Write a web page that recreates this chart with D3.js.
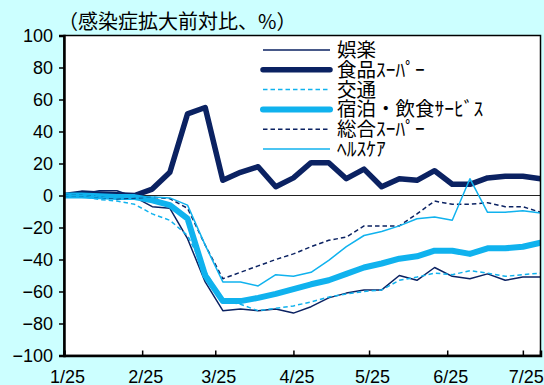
<!DOCTYPE html>
<html>
<head>
<meta charset="utf-8">
<script src="https://cdn.jsdelivr.net/npm/d3@7"></script>
<style>
  html, body { margin: 0; padding: 0; background: #CCFFFF; }
  svg { display: block; }
</style>
</head>
<body>
<svg id="chart" width="544" height="385"></svg>
<script>
// Weekly observation dates (week starting)
const weeks = [
  "2020-01-25","2020-02-01","2020-02-08","2020-02-15","2020-02-22","2020-02-29",
  "2020-03-07","2020-03-14","2020-03-21","2020-03-28","2020-04-04","2020-04-11",
  "2020-04-18","2020-04-25","2020-05-02","2020-05-09","2020-05-16","2020-05-23",
  "2020-05-30","2020-06-06","2020-06-13","2020-06-20","2020-06-27","2020-07-04",
  "2020-07-11","2020-07-18","2020-07-25","2020-08-01"
];

const tickDates  = ["2020-01-25","2020-02-25","2020-03-25","2020-04-25","2020-05-25","2020-06-25","2020-07-25"];
const tickLabels = ["1/25","2/25","3/25","4/25","5/25","6/25","7/25"];
const yTicks = [100, 80, 60, 40, 20, 0, -20, -40, -60, -80, -100];

const seriesNames = ["娯楽", "食品ｽｰﾊﾟｰ", "交通", "宿泊・飲食ｻｰﾋﾞｽ", "総合ｽｰﾊﾟｰ", "ﾍﾙｽｹｱ"];

// Spending vs. pre-outbreak level, %
const entertainment = [0, 1, 3, 3, -1, -7, -8, -27, -54, -72, -71, -72, -71, -73.5,
  -69.5, -64, -61, -59, -59, -50, -53, -45, -50.5, -52, -49, -53, -51, -51];
const foodSupermarket = [0, 1.5, 1, 0.5, 0, 4, 14.5, 51, 55, 9.5, 14.5, 18, 5.5, 11,
  20.5, 20.5, 10.5, 16.5, 5.5, 10.5, 9.5, 15.5, 7, 7, 11, 12, 12, 10.5];
const transport = [0, -0.5, -2.5, -3.5, -5.5, -11.5, -15.5, -25, -47, -66, -68, -72, -70.5, -69,
  -66.5, -63.5, -61.5, -60, -59, -53, -51, -48.5, -49.5, -47, -48.5, -50.5, -49.5, -48.5];
const hospitality = [0, 0, -0.5, -1, -1, -3, -6, -14.5, -50, -66, -66, -64, -61.5, -58.5,
  -55.5, -53, -49, -45, -42.5, -39.5, -38, -34.5, -34.5, -36.5, -33, -33, -32, -29.5];
const generalSupermarket = [0, 0, -1, -2, -1.5, -1, -2, -8, -31, -52, -48, -44, -40, -36.5,
  -32, -28, -26, -19, -19, -19, -11.5, -3.5, -5.5, -5.5, -4.5, -7, -7, -10.5];
const healthcare = [0, 0, -1, -1.5, -1, -1, -1.5, -6, -31, -54, -54, -56.5, -49.5, -50.5,
  -48, -40.5, -32, -25, -22.5, -19, -14.5, -13.5, -15.5, 10.5, -10.5, -10.5, -9.5, -11];

const seriesValues = [entertainment, foodSupermarket, transport, hospitality, generalSupermarket, healthcare];

const NAVY = "#0B2262";
const SKY = "#10B2EE";
const styles = [
  { color: NAVY, width: 1.5, dash: null },
  { color: NAVY, width: 5.5, dash: null },
  { color: SKY,  width: 1.5, dash: "4.5,3" },
  { color: SKY,  width: 6,   dash: null },
  { color: NAVY, width: 1.5, dash: "4.5,3" },
  { color: SKY,  width: 1.5, dash: null }
];

const parse = d3.utcParse("%Y-%m-%d");
const dates = weeks.map(parse);

const svg = d3.select("#chart");
const plot = { left: 64, right: 540.5, top: 35.5, bottom: 355.5 };

const x = d3.scaleUtc()
  .domain([dates[0], dates[dates.length - 1]])
  .range([plot.left, plot.right]);
const y = d3.scaleLinear()
  .domain([-100, 100])
  .range([plot.bottom, plot.top]);

// Plot background
svg.append("rect")
  .attr("x", plot.left).attr("y", plot.top)
  .attr("width", plot.right - plot.left).attr("height", plot.bottom - plot.top)
  .attr("fill", "#FFFFFF");

// Zero reference line
svg.append("line")
  .attr("x1", plot.left).attr("x2", plot.right)
  .attr("y1", y(0)).attr("y2", y(0))
  .attr("stroke", "#222").attr("stroke-width", 1.2);

// Series lines
const line = d3.line()
  .x((d, i) => x(dates[i]))
  .y(d => y(d));

svg.append("clipPath").attr("id", "plotClip")
  .append("rect")
  .attr("x", plot.left).attr("y", plot.top)
  .attr("width", plot.right - plot.left).attr("height", plot.bottom - plot.top);

const linesG = svg.append("g").attr("clip-path", "url(#plotClip)");
seriesValues.forEach((vals, i) => {
  const s = styles[i];
  linesG.append("path")
    .attr("d", line(vals))
    .attr("fill", "none")
    .attr("stroke", s.color)
    .attr("stroke-width", s.width)
    .attr("stroke-linejoin", "round")
    .attr("stroke-linecap", s.width > 3 ? "round" : "butt")
    .attr("stroke-dasharray", s.dash);
});

// Plot frame
svg.append("rect")
  .attr("x", plot.left).attr("y", plot.top)
  .attr("width", plot.right - plot.left).attr("height", plot.bottom - plot.top)
  .attr("fill", "none").attr("stroke", "#000").attr("stroke-width", 1.5);

// Y axis
const yAxis = svg.append("g")
  .attr("transform", `translate(${plot.left},0)`)
  .call(d3.axisLeft(y)
    .tickValues(yTicks)
    .tickSize(5)
    .tickPadding(6)
    .tickFormat(d => d < 0 ? "\u2212" + Math.abs(d) : String(d)));
yAxis.select(".domain").attr("stroke", "#000").attr("stroke-width", 2.5);
yAxis.selectAll(".tick line").attr("stroke", "#000").attr("stroke-width", 1.5);
yAxis.selectAll(".tick text")
  .attr("fill", "#000")
  .style("font-family", "'Liberation Sans', Arial, sans-serif")
  .style("font-size", "18px")
  .attr("dy", "0.36em");

// X axis (ticks point into the plot)
const xAxis = svg.append("g")
  .attr("transform", `translate(0,${plot.bottom})`)
  .call(d3.axisBottom(x)
    .tickValues(tickDates.map(parse))
    .tickSize(-5)
    .tickPadding(0)
    .tickFormat((d, i) => tickLabels[i]));
xAxis.select(".domain").attr("stroke", "#000").attr("stroke-width", 2.5);
xAxis.selectAll(".tick line").attr("stroke", "#000").attr("stroke-width", 1.5);
xAxis.selectAll(".tick text")
  .attr("fill", "#000")
  .attr("y", 27)
  .attr("dy", 0)
  .attr("dx", 3)
  .style("font-family", "'Liberation Sans', Arial, sans-serif")
  .style("font-size", "18px");

// Unit title
svg.append("text")
  .attr("x", 58).attr("y", 29)
  .style("font-family", "'Noto Sans CJK JP', sans-serif")
  .style("font-size", "20px")
  .attr("fill", "#000")
  .text("（感染症拡大前対比、%）");

// Legend
const legend = svg.append("g");
seriesNames.forEach((name, i) => {
  const s = styles[i];
  const ly = 50 + i * 19.8;
  legend.append("line")
    .attr("x1", 263).attr("x2", 330)
    .attr("y1", ly).attr("y2", ly)
    .attr("stroke", s.color)
    .attr("stroke-width", s.width)
    .attr("stroke-linecap", s.width > 3 ? "round" : "butt")
    .attr("stroke-dasharray", s.dash);
  legend.append("text")
    .attr("x", 337).attr("y", ly + 7)
    .style("font-family", "'Noto Sans CJK JP', sans-serif")
    .style("font-size", "19.5px")
    .attr("fill", "#000")
    .text(name);
});
</script>
</body>
</html>
